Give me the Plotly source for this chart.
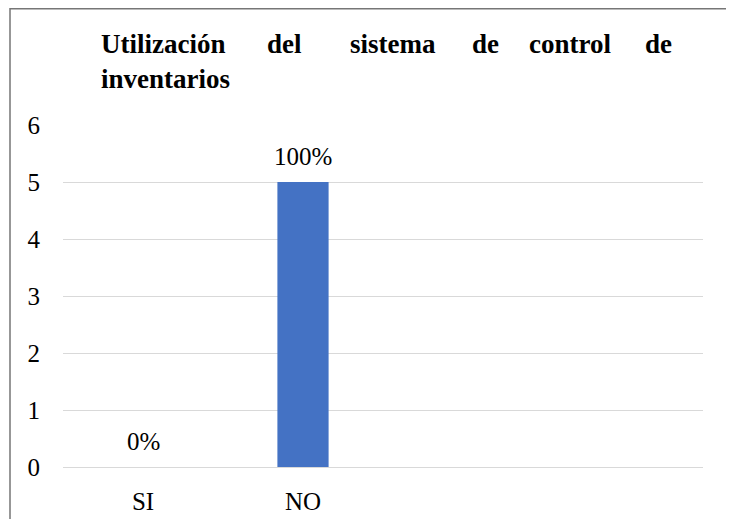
import plotly.graph_objects as go

# data
categories = ["SI", "NO"]
extra_slots = [" ", "  "]          # empty category slots to the right
counts = [0, 5]
labels = ["0%", "100%"]

title_line1 = ["Utilización", "del", "sistema", "de", "control", "de"]
title_line2 = ["inventarios"]

# page has an 8px body margin, so the figure is 8px smaller
OFF = 8
W, H = 734 - OFF, 519 - OFF
ML, MR, MT, MB = 55, 31, 117, 52
PW, PH = W - ML - MR, H - MT - MB

serif = "Liberation Serif"

def px_x(px):
    # page pixel -> paper x
    return (px - OFF - ML) / PW

def px_y(py):
    # page pixel -> paper y
    return (H - MB - (py - OFF)) / PH

fig = go.Figure()
fig.add_trace(go.Bar(
    x=categories, y=counts,
    marker=dict(color="#4472C4", line=dict(width=0)),
    width=0.32,
    hoverinfo="skip",
))

# data labels above the bars
for c, v, t in zip(categories, counts, labels):
    fig.add_annotation(x=c, y=v, text=t, showarrow=False,
                       xanchor="center", yanchor="bottom", yshift=10,
                       font=dict(family=serif, size=25, color="#000000"))

# justified title, one word at a time
line1_px = [99, 265, 348, 470, 527, 643]
for w, p in zip(title_line1, line1_px):
    fig.add_annotation(xref="paper", yref="paper", x=px_x(p), y=px_y(44),
                       text="<b>%s</b>" % w, showarrow=False,
                       xanchor="left", yanchor="middle",
                       font=dict(family=serif, size=27, color="#000000"))
for w in title_line2:
    fig.add_annotation(xref="paper", yref="paper", x=px_x(99), y=px_y(79),
                       text="<b>%s</b>" % w, showarrow=False,
                       xanchor="left", yanchor="middle",
                       font=dict(family=serif, size=27, color="#000000"))

# chart frame (only top and left visible in the crop)
fig.add_shape(type="rect", xref="paper", yref="paper",
              x0=px_x(10), x1=px_x(760), y0=px_y(540), y1=px_y(OFF + 0.8),
              line=dict(color="#767676", width=1.5), layer="above")

fig.update_layout(
    width=W, height=H,
    margin=dict(l=ML, r=MR, t=MT, b=MB, autoexpand=False),
    paper_bgcolor="white", plot_bgcolor="white",
    showlegend=False,
    font=dict(family=serif, size=25, color="#000000"),
    xaxis=dict(type="category", categoryorder="array",
               categoryarray=categories + extra_slots,
               range=[-0.5, 3.5], showgrid=False, zeroline=False,
               showline=False, ticks="", ticklabelstandoff=17, automargin=False,
               tickfont=dict(family=serif, size=25, color="#000000")),
    yaxis=dict(range=[0, 6], dtick=1, showgrid=True, gridcolor="#d9d9d9",
               gridwidth=1.3, zeroline=True, zerolinecolor="#d9d9d9",
               zerolinewidth=1.3, showline=False, ticks="", automargin=False,
               ticklabelstandoff=22,
               tickfont=dict(family=serif, size=25, color="#000000")),
)

fig.write_html("out.html")
